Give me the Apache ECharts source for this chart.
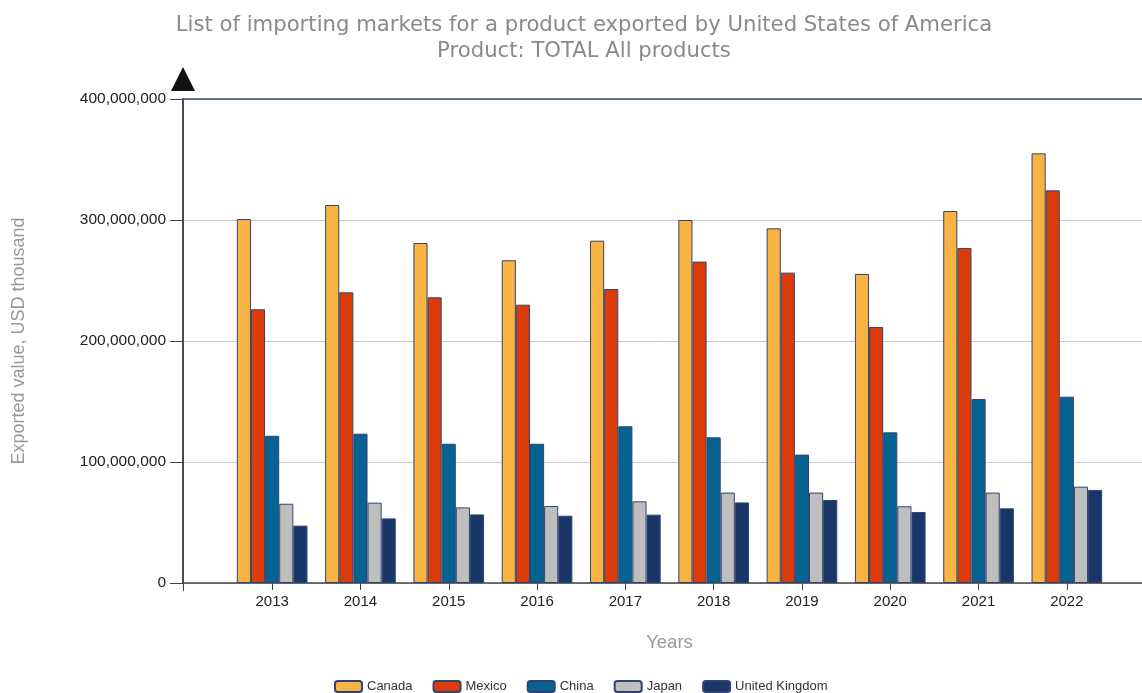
<!DOCTYPE html>
<html>
<head>
<meta charset="utf-8">
<script src="https://cdn.jsdelivr.net/npm/echarts@6/dist/echarts.min.js"></script>
<style>
html,body{margin:0;padding:0;background:#fff;}
#chart{width:1142px;height:693px;}
</style>
</head>
<body>
<div id="chart"></div>
<script>
var years = ['2013','2014','2015','2016','2017','2018','2019','2020','2021','2022'];
var seriesNames = ['Canada','Mexico','China','Japan','United Kingdom'];
var canada = [300.8e6, 312.4e6, 281.0e6, 266.7e6, 282.9e6, 300.0e6, 293.1e6, 255.4e6, 307.4e6, 355.1e6];
var mexico = [226.2e6, 240.2e6, 236.1e6, 230.0e6, 243.0e6, 265.6e6, 256.5e6, 211.6e6, 276.9e6, 324.5e6];
var china  = [121.7e6, 123.4e6, 115.1e6, 115.1e6, 129.5e6, 120.4e6, 106.1e6, 124.5e6, 152.1e6, 154.0e6];
var japan  = [65.5e6, 66.4e6, 62.5e6, 63.6e6, 67.5e6, 74.7e6, 74.7e6, 63.4e6, 74.7e6, 79.6e6];
var uk     = [47.4e6, 53.4e6, 56.7e6, 55.6e6, 56.5e6, 66.6e6, 68.6e6, 58.7e6, 61.7e6, 76.9e6];
var yTicks = [0, 100000000, 200000000, 300000000, 400000000];
var colors = ['#F9B342', '#DC3C0A', '#066391', '#BEBEBE', '#1A3668'];

var allData = [canada, mexico, china, japan, uk];
var yMin = yTicks[0], yMax = yTicks[yTicks.length - 1], yInt = yTicks[1] - yTicks[0];

function fmt(v) { return String(v).replace(/\B(?=(\d{3})+(?!\d))/g, ','); }

var chart = echarts.init(document.getElementById('chart'), null, {renderer: 'canvas'});
var series = seriesNames.map(function (n, i) {
  return {
    name: n,
    type: 'bar',
    xAxisIndex: 0,
    yAxisIndex: 0,
    data: allData[i],
    barGap: '0%',
    barCategoryGap: '20%',
    itemStyle: { color: colors[i], borderColor: '#2f4470', borderWidth: 1 },
    emphasis: { disabled: true }
  };
});

chart.setOption({
  animation: false,
  backgroundColor: '#ffffff',
  title: {
    text: 'List of importing markets for a product exported by United States of America\nProduct: TOTAL All products',
    left: 579,
    textAlign: 'center',
    top: 7,
    textStyle: { fontFamily: 'DejaVu Sans', fontSize: 21.2, fontWeight: 'normal', color: '#8a8a8a', lineHeight: 26 }
  },
  legend: {
    data: seriesNames,
    left: 329,
    top: 675,
    itemWidth: 27,
    itemHeight: 11,
    itemGap: 20,
    textStyle: { fontFamily: 'Liberation Sans', fontSize: 13, color: '#333' }
  },
  grid: [
    { left: 228, right: 31, top: 99, bottom: 110, outerBoundsMode: 'none', containLabel: false },
    { left: 183, right: 0, top: 99, bottom: 110, outerBoundsMode: 'none', containLabel: false }
  ],
  xAxis: [
    {
      type: 'category', gridIndex: 0, data: years,
      axisLine: { show: false },
      axisTick: { show: true, alignWithLabel: true, length: 7, lineStyle: { color: '#444' } },
      axisLabel: { margin: 11, fontFamily: 'Liberation Sans', fontSize: 15, color: '#222' },
      name: 'Years', nameLocation: 'middle', nameGap: 50,
      nameTextStyle: { fontFamily: 'Liberation Sans', fontSize: 18.5, color: '#999' }
    },
    {
      type: 'value', gridIndex: 1, min: 0, max: 1, interval: 1,
      axisLine: { show: true, onZero: false, lineStyle: { color: '#444', width: 1.5 } },
      axisTick: { show: true, length: 8, lineStyle: { color: '#444' } },
      axisLabel: { show: false },
      splitLine: { show: false }
    },
    {
      type: 'value', gridIndex: 1, position: 'top', min: 0, max: 1, interval: 1,
      axisLine: { show: true, onZero: false, lineStyle: { color: '#3d4f72', width: 1.5 } },
      axisTick: { show: false },
      axisLabel: { show: false },
      splitLine: { show: false }
    }
  ],
  yAxis: [
    {
      type: 'value', gridIndex: 0, min: yMin, max: yMax, interval: yInt,
      axisLine: { show: false }, axisTick: { show: false }, axisLabel: { show: false },
      splitLine: { show: false }
    },
    {
      type: 'value', gridIndex: 1, min: yMin, max: yMax, interval: yInt,
      axisLine: {
        show: true, onZero: false,
        lineStyle: { color: '#111', width: 1.5 },
        symbol: ['none', 'triangle'], symbolSize: [24, 24], symbolOffset: [0, 20]
      },
      axisTick: { show: true, length: 13, lineStyle: { color: '#444' } },
      axisLabel: { margin: 17, fontFamily: 'Liberation Sans', fontSize: 15.5, color: '#222', formatter: fmt },
      splitLine: { show: true, lineStyle: { color: '#c8c8c8', width: 1 } },
      name: 'Exported value, USD thousand', nameLocation: 'middle', nameGap: 155,
      nameTextStyle: { fontFamily: 'Liberation Sans', fontSize: 18, color: '#999' }
    }
  ],
  series: series
});
</script>
</body>
</html>
